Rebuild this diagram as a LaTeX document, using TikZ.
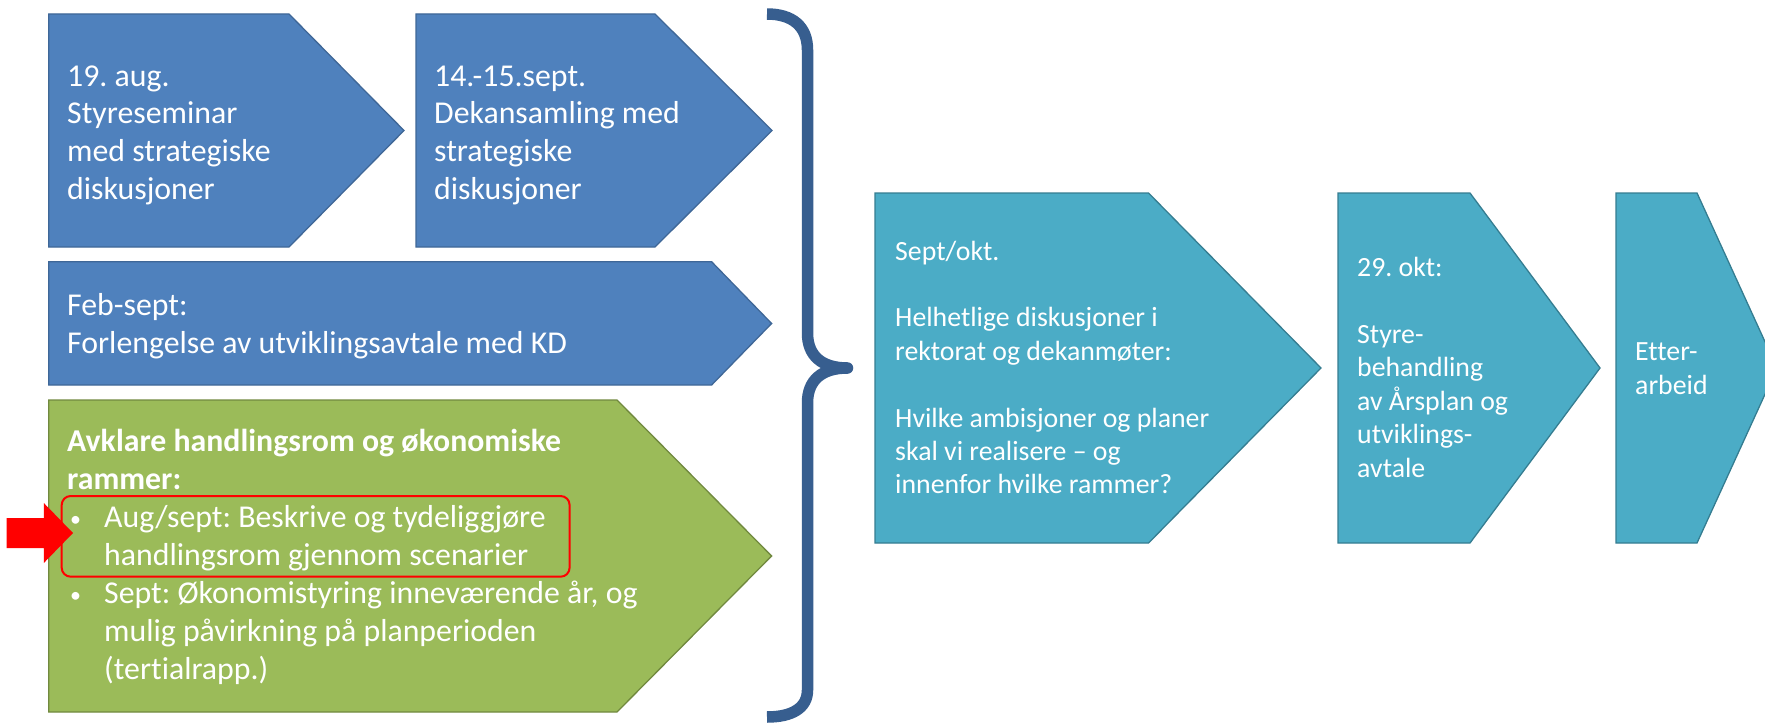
\documentclass[tikz,border=0pt]{standalone}
\usepackage{fontspec}
\setmainfont{Carlito}[Ligatures={NoCommon}]
\frenchspacing
\definecolor{bluefill}{HTML}{4F81BD}
\definecolor{blueline}{HTML}{3F6797}
\definecolor{greenfill}{HTML}{9BBB59}
\definecolor{greenline}{HTML}{71893F}
\definecolor{cyanfill}{HTML}{4BACC6}
\definecolor{cyanline}{HTML}{357D91}
\definecolor{bracecol}{HTML}{375E8F}
\newcommand\blk[2]{\begin{minipage}[t]{#1}\raggedright\noindent\frenchspacing #2\end{minipage}}
\newcommand\bul{\hspace*{3pt}\makebox[34pt][l]{\raisebox{1pt}{\fontsize{22}{22}\selectfont•}}}
\tikzset{
  bluebox/.style={fill=bluefill, draw=blueline, line width=1.3pt, line join=miter},
  greenbox/.style={fill=greenfill, draw=greenline, line width=1.3pt, line join=miter},
  cyanbox/.style={fill=cyanfill, draw=cyanline, line width=1.3pt, line join=miter},
  bigtext/.style={anchor=base west, inner sep=0pt, text=white, font=\fontsize{31.8}{38}\selectfont},
  smalltext/.style={anchor=base west, inner sep=0pt, text=white, font=\fontsize{27.8}{33.4}\selectfont},
  bracestroke/.style={draw=bracecol, line width=11.5pt, line cap=butt},
  highlight/.style={draw=red, line width=2pt, rounded corners=9pt},
}
\begin{document}
\begin{tikzpicture}[x=1pt,y=-1pt]
\useasboundingbox (0,0) rectangle (1765,725);
\clip (0,0) rectangle (1765,725);

% left column shapes
\draw[bluebox] (48.8,14) -- (289,14) -- (404,130.5) -- (289,247) -- (48.8,247) -- cycle;
\draw[bluebox] (416,14) -- (655,14) -- (772,130.5) -- (655,247) -- (416,247) -- cycle;
\draw[bluebox] (48.8,261.7) -- (711.6,261.7) -- (771.6,323.5) -- (711.6,385) -- (48.8,385) -- cycle;
\draw[greenbox] (48.8,400) -- (617,400) -- (771.6,556) -- (617,712) -- (48.8,712) -- cycle;

% right column shapes
\draw[cyanbox] (875,193) -- (1148.5,193) -- (1321,368) -- (1148.5,543) -- (875,543) -- cycle;
\draw[cyanbox] (1338,193) -- (1470,193) -- (1600,368) -- (1470,543) -- (1338,543) -- cycle;
\draw[cyanbox] (1616,193) -- (1697,193) -- (1777,368) -- (1697,543) -- (1616,543) -- cycle;

% texts
\node[bigtext] (aug) at (67,86) {\blk{330pt}{19. aug.\\Styreseminar\\med strategiske\\diskusjoner}};
\node[bigtext] (sept) at (434,86) {\blk{330pt}{14.-15.sept.\\Dekansamling med\\strategiske\\diskusjoner}};
\node[bigtext] (feb) at (67,315) {\blk{650pt}{Feb-sept:\\Forlengelse av utviklingsavtale med KD}};
\node[bigtext] (avkl) at (67,451.5) {\blk{650pt}{\textbf{Avklare handlingsrom og økonomiske}\\
\textbf{rammer:}\\
\bul Aug/sept: Beskrive og tydeliggjøre\\
\hspace*{37pt}handlingsrom gjennom scenarier\\
\bul Sept: Økonomistyring inneværende år, og\\
\hspace*{37pt}mulig påvirkning på planperioden\\
\hspace*{37pt}(tertialrapp.)}};

\node[smalltext] (septokt) at (895,260) {\blk{420pt}{Sept/okt.\\[33.4pt]Helhetlige diskusjoner i\\rektorat og dekanmøter:\\[33.4pt]Hvilke ambisjoner og planer\\skal vi realisere – og\\innenfor hvilke rammer?}};
\node[smalltext] (okt) at (1357,276.7) {\blk{300pt}{29. okt:\\[33.4pt]Styre-\\behandling\\av Årsplan og\\utviklings-\\avtale}};
\node[smalltext] (etter) at (1635,360.7) {\blk{200pt}{Etter-\\arbeid}};

% highlight and arrow
\draw[highlight] (61.7,496) rectangle (569.6,576.7);
\fill[red] (6.7,518) -- (43.8,518) -- (43.8,503) -- (73,533) -- (43.8,563) -- (43.8,548) -- (6.7,548) -- cycle;

% brace
\coordinate (bracetop) at (767,14);
\coordinate (bracetip) at (847.5,368);
\coordinate (bracebot) at (767,717);
\draw[bracestroke] (bracetop) .. controls (792,14) and (807.5,26) .. (807.5,50) -- (807.5,333) .. controls (807.5,356) and (822,368) .. (bracetip);
\draw[bracestroke] (bracetip) .. controls (822,368) and (807.5,380) .. (807.5,403) -- (807.5,690) .. controls (807.5,708) and (792,717) .. (bracebot);
\fill[bracecol] (bracetip) circle (5.75);
\end{tikzpicture}
\end{document}
